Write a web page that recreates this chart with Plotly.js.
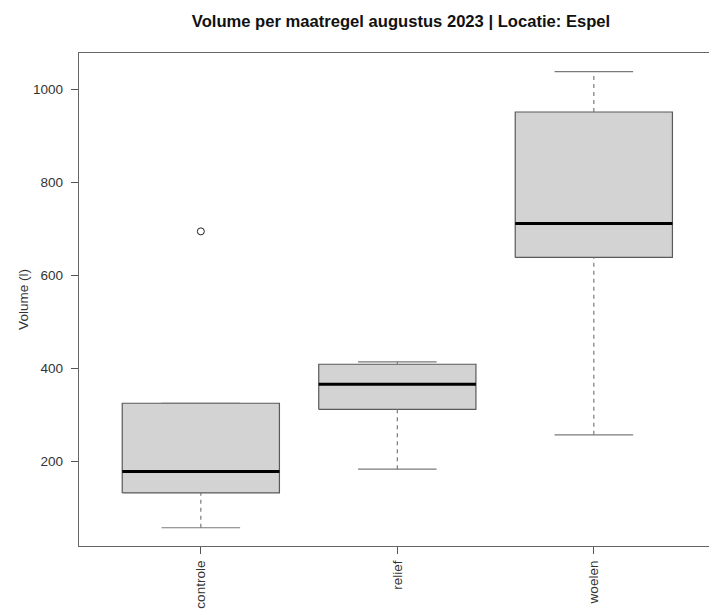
<!DOCTYPE html>
<html>
<head>
<meta charset="utf-8">
<script src="https://cdn.plot.ly/plotly-3.0.1.min.js"></script>
<style>
  html, body { margin: 0; padding: 0; background: #fff; }
  #chart { width: 709px; height: 609px; }
</style>
</head>
<body>
<div id="chart"></div>
<script>
// Boxplot summary per maatregel (volume in liters)
const categories   = ['controle', 'relief', 'woelen'];
const lowerWhisker = [57, 183, 257];
const q1Values     = [132, 312, 639];
const medians      = [178, 366, 712];
const q3Values     = [325, 409, 952];
const upperWhisker = [325, 414, 1039];
const outliers     = [[695], [], []];
const yTickVals    = [200, 400, 600, 800, 1000];

const HALF_BOX = 0.4;   // half box width in x units
const HALF_CAP = 0.2;   // half whisker-cap width

const traces = [];
categories.forEach((cat, i) => {
  const x = i + 1;
  // box body
  traces.push({
    type: 'scatter', mode: 'lines', hoverinfo: 'skip', showlegend: false,
    x: [x - HALF_BOX, x + HALF_BOX, x + HALF_BOX, x - HALF_BOX, x - HALF_BOX],
    y: [q1Values[i], q1Values[i], q3Values[i], q3Values[i], q1Values[i]],
    fill: 'toself', fillcolor: '#d3d3d3',
    line: { color: '#5a5a5a', width: 1.2 }
  });
  // whiskers (dashed)
  traces.push({
    type: 'scatter', mode: 'lines', hoverinfo: 'skip', showlegend: false,
    x: [x, x, null, x, x],
    y: [lowerWhisker[i], q1Values[i], null, q3Values[i], upperWhisker[i]],
    line: { color: '#7a7a7a', width: 1.2, dash: '4px,4px' }
  });
  // whisker caps
  traces.push({
    type: 'scatter', mode: 'lines', hoverinfo: 'skip', showlegend: false,
    x: [x - HALF_CAP, x + HALF_CAP, null, x - HALF_CAP, x + HALF_CAP],
    y: [lowerWhisker[i], lowerWhisker[i], null, upperWhisker[i], upperWhisker[i]],
    line: { color: '#7a7a7a', width: 1.2 }
  });
  // median
  traces.push({
    type: 'scatter', mode: 'lines', showlegend: false, name: cat,
    x: [x - HALF_BOX, x + HALF_BOX],
    y: [medians[i], medians[i]],
    line: { color: '#000', width: 3 }
  });
  // outliers
  if (outliers[i].length) {
    traces.push({
      type: 'scatter', mode: 'markers', showlegend: false, name: cat,
      x: outliers[i].map(() => x),
      y: outliers[i],
      marker: { symbol: 'circle-open', size: 7, color: '#222', line: { width: 1 } }
    });
  }
});

const layout = {
  width: 709, height: 609,
  margin: { l: 79, r: 0, t: 53, b: 63 },
  paper_bgcolor: '#fff', plot_bgcolor: '#fff',
  font: { family: 'Liberation Sans, Arial, sans-serif', color: '#333', size: 13.5 },
  title: {
    text: '<b>Volume per maatregel augustus 2023 | Locatie: Espel</b>',
    font: { size: 16.6, color: '#111' },
    xref: 'container', x: 401 / 709, xanchor: 'center',
    yref: 'container', y: 1 - 21 / 609, yanchor: 'middle'
  },
  xaxis: {
    range: [0.38, 0.38 + 630 / 196.5],
    tickvals: [1, 2, 3], ticktext: categories,
    tickangle: -90, ticklabelstandoff: 1,
    ticks: 'outside', ticklen: 7, tickcolor: '#555', tickwidth: 1,
    showline: true, linecolor: '#666', linewidth: 1.2, mirror: true,
    showgrid: false, zeroline: false, fixedrange: true
  },
  yaxis: {
    range: [17.7, 1079],
    tickvals: yTickVals, ticklabelstandoff: 5,
    ticks: 'outside', ticklen: 7, tickcolor: '#555', tickwidth: 1,
    showline: true, linecolor: '#666', linewidth: 1.2,
    showgrid: false, zeroline: false, fixedrange: true,
    title: { text: 'Volume (l)', font: { size: 13.5, color: '#333' }, standoff: 1 }
  }
};

Plotly.newPlot('chart', traces, layout, { displayModeBar: false, staticPlot: true });
</script>
</body>
</html>
